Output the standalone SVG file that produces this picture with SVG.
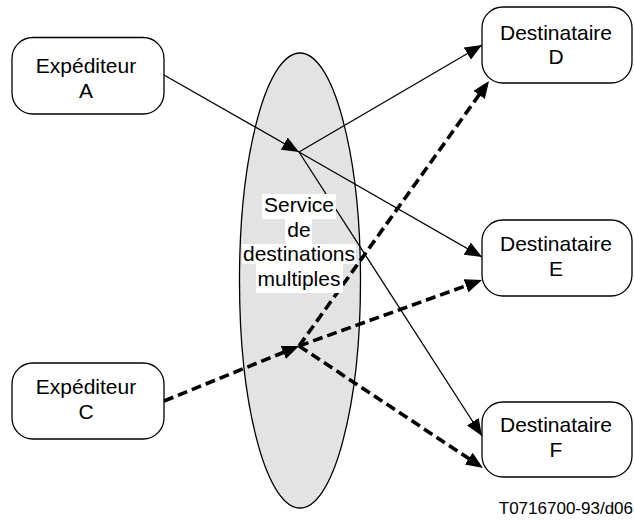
<svg xmlns="http://www.w3.org/2000/svg" width="634" height="520" viewBox="0 0 634 520">
<style>
  .box { fill: #ffffff; stroke: #000000; stroke-width: 1.3; }
  .lbl { font-family: "Liberation Sans", Arial, sans-serif; font-size: 21px; fill: #000000; text-anchor: middle; }
  .ref { font-family: "Liberation Sans", Arial, sans-serif; font-size: 17px; fill: #000000; text-anchor: end; }
  .solid { fill: none; stroke: #000000; stroke-width: 1.3; }
  .dash { fill: none; stroke: #000000; stroke-width: 3.6; stroke-dasharray: 10 5; }
  .bg { fill: #ffffff; stroke: none; }
</style>
<defs>
  <marker id="arrS" markerUnits="userSpaceOnUse" markerWidth="17" markerHeight="14" viewBox="0 0 17 14" refX="17" refY="7" orient="auto">
    <path d="M0,0 L17,7 L0,14 z" fill="#000000"/>
  </marker>
  <marker id="arrD" markerUnits="userSpaceOnUse" markerWidth="17" markerHeight="14" viewBox="0 0 17 14" refX="12" refY="7" orient="auto">
    <path d="M0,0 L17,7 L0,14 z" fill="#000000"/>
  </marker>
</defs>
<rect width="634" height="520" fill="#ffffff"/>

<g id="service">
  <ellipse cx="300" cy="280.5" rx="60.5" ry="227.5" fill="#e3e3e3" stroke="#000000" stroke-width="1.3"/>
</g>

<g id="expediteur-a">
  <rect class="box" x="12" y="37.5" width="152" height="76.5" rx="21" ry="21"/>
  <text class="lbl" x="86" y="73">Expéditeur</text>
  <text class="lbl" x="86" y="98">A</text>
</g>
<g id="expediteur-c">
  <rect class="box" x="12" y="363" width="152" height="76" rx="21" ry="21"/>
  <text class="lbl" x="86" y="394">Expéditeur</text>
  <text class="lbl" x="86" y="419">C</text>
</g>
<g id="destinataire-d">
  <rect class="box" x="482" y="7" width="150" height="76" rx="21" ry="21"/>
  <text class="lbl" x="556" y="40">Destinataire</text>
  <text class="lbl" x="556" y="64">D</text>
</g>
<g id="destinataire-e">
  <rect class="box" x="482" y="220" width="150" height="76" rx="21" ry="21"/>
  <text class="lbl" x="556" y="251">Destinataire</text>
  <text class="lbl" x="556" y="276">E</text>
</g>
<g id="destinataire-f">
  <rect class="box" x="482" y="402" width="150" height="75" rx="21" ry="21"/>
  <text class="lbl" x="556" y="432">Destinataire</text>
  <text class="lbl" x="556" y="457">F</text>
</g>

<g id="connectors">
  <line class="solid" x1="164" y1="75" x2="299" y2="152" marker-end="url(#arrS)"/>
  <line class="solid" x1="299" y1="152" x2="482" y2="45" marker-end="url(#arrS)"/>
  <line class="solid" x1="299" y1="152" x2="482" y2="257" marker-end="url(#arrS)"/>
  <line class="solid" x1="299" y1="152" x2="482" y2="436" marker-end="url(#arrS)"/>
  <line class="dash" x1="164" y1="401" x2="294.4" y2="347.9" marker-end="url(#arrD)"/>
  <line class="dash" x1="299" y1="346" x2="486.1" y2="85.1" marker-end="url(#arrD)"/>
  <line class="dash" x1="299" y1="346" x2="477.3" y2="281.7" marker-end="url(#arrD)"/>
  <line class="dash" x1="299" y1="346" x2="478.8" y2="465.2" marker-end="url(#arrD)"/>
</g>

<g id="service-label">
  <rect class="bg" x="262" y="194" width="74" height="25"/>
  <rect class="bg" x="285" y="219" width="27" height="25"/>
  <rect class="bg" x="242" y="244" width="114" height="20"/>
  <rect class="bg" x="256" y="264" width="87" height="29"/>
  <text class="lbl" x="299" y="212">Service</text>
  <text class="lbl" x="299" y="237">de</text>
  <text class="lbl" x="299" y="261">destinations</text>
  <text class="lbl" x="299" y="286">multiples</text>
</g>

<text class="ref" x="633" y="514">T0716700-93/d06</text>
</svg>
